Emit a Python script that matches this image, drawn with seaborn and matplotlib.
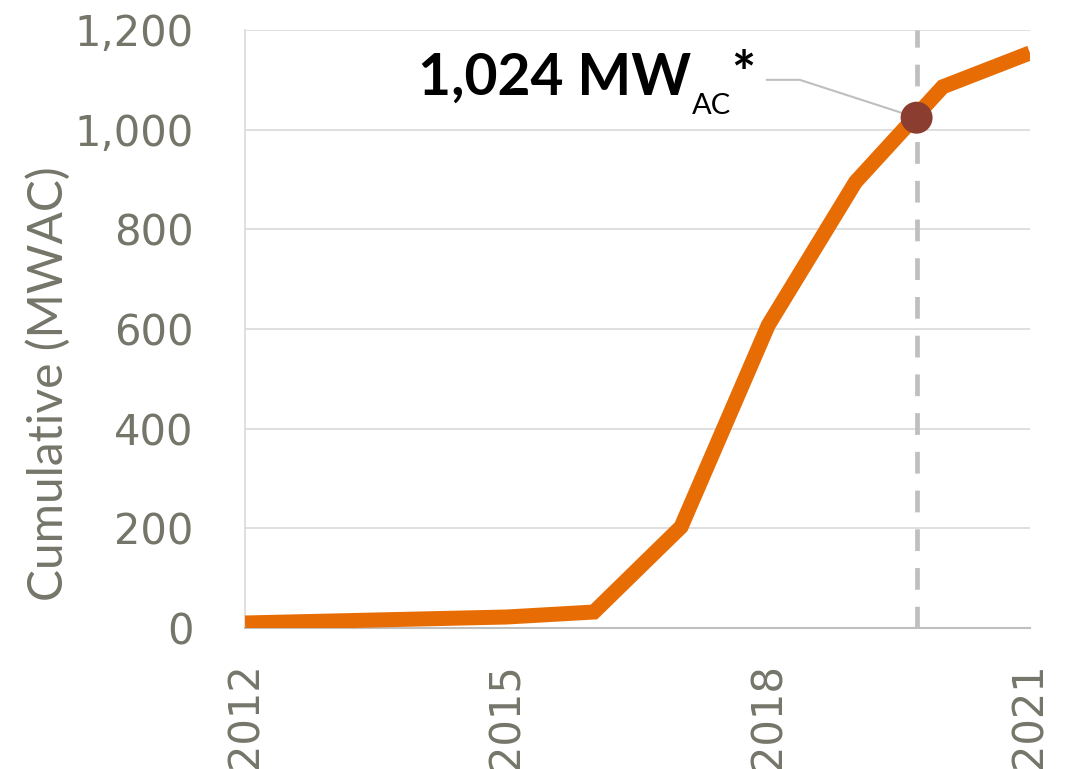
import pandas as pd
import seaborn as sns
import matplotlib.pyplot as plt
import matplotlib.ticker as mticker

# data
years = [2012, 2013, 2014, 2015, 2016, 2017, 2018, 2019, 2020, 2021]
cumulative_mwac = [10, 14, 18, 22, 32, 203, 608, 895, 1086, 1154]
x_ticks = [2012, 2015, 2018, 2021]
y_ticks = [0, 200, 400, 600, 800, 1000, 1200]

# highlighted point
point_x = [2019.7]
point_y = [1024]
point_label = '1,024 MW'

df = pd.DataFrame({'year': years, 'mwac': cumulative_mwac})
df_point = pd.DataFrame({'year': point_x, 'mwac': point_y})

sns.set_style('white')
plt.rcParams['font.family'] = ['DejaVu Sans']

gray_text = '#75756A'
orange = '#E86C04'

fig, ax = plt.subplots(figsize=(10.71, 7.69), dpi=100)
fig.subplots_adjust(left=0.2288, right=0.9617, top=0.961, bottom=0.1834)

# dashed marker line
ax.axvline(point_x[0], color='#BFBFBF', lw=3.4, dashes=(4.6, 3.6), zorder=1)

sns.lineplot(data=df, x='year', y='mwac', ax=ax, color=orange, lw=10.8,
             solid_capstyle='butt', solid_joinstyle='miter', zorder=3)
sns.scatterplot(data=df_point, x='year', y='mwac', ax=ax, color='#8B3E2F',
                s=530, edgecolor='none', zorder=5)

ax.set_xlim(2012, 2021)
ax.set_ylim(0, 1200)
ax.set_xticks(x_ticks)
ax.set_yticks(y_ticks)
ax.yaxis.set_major_formatter(mticker.FuncFormatter(lambda v, p: f'{int(v):,}'))
ax.grid(axis='y', color='#D9D9D9', lw=1.2)
ax.grid(axis='x', visible=False)

for s in ['top', 'right']:
    ax.spines[s].set_visible(False)
ax.spines['left'].set_color('#D9D9D9')
ax.spines['left'].set_linewidth(1.2)
ax.spines['bottom'].set_color('#BFBFBF')
ax.spines['bottom'].set_linewidth(1.5)

ax.tick_params(axis='y', length=12, width=1.2, color='#D9D9D9', pad=25,
               labelsize=30, labelcolor=gray_text)
ax.tick_params(axis='x', length=0, pad=25, labelsize=30, labelcolor=gray_text,
               labelrotation=90)

ax.set_xlabel('')
ax.set_ylabel('Cumulative (MWAC)', family='Lato', fontsize=34.5, color=gray_text)
ax.yaxis.set_label_coords(-0.222, 0.408)

# annotation text
t1 = ax.text(2013.98, 1070, point_label, family='Lato', fontweight='bold',
             fontsize=41, color='black', va='baseline', ha='left')
t2 = ax.annotate('AC', xy=(1, 0), xycoords=t1, xytext=(1, -7),
                 textcoords='offset points', family='Lato', fontsize=21,
                 color='black', va='baseline', ha='left')
ax.annotate('*', xy=(1, 0), xycoords=(t2, t1), xytext=(0, 1),
            textcoords='offset points', family='Lato', fontweight='bold',
            fontsize=41, color='black', va='bottom', ha='left')

# leader line to the point
ax.plot([2017.98, 2018.36, point_x[0]], [1100, 1100, point_y[0]],
        color='#BFBFBF', lw=1.5, zorder=4)

fig.savefig('out.png', dpi=100)
